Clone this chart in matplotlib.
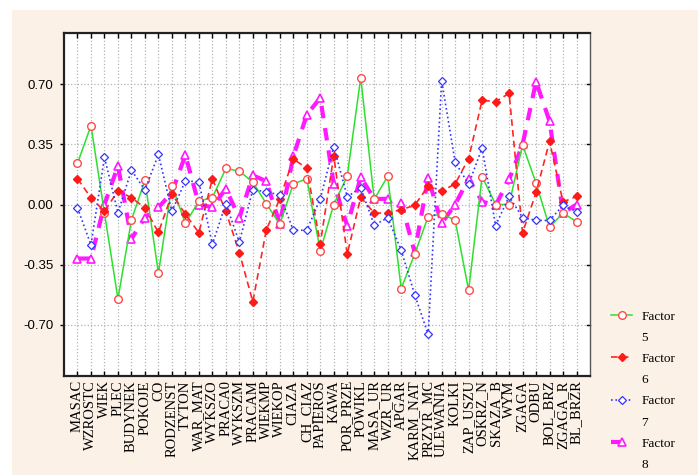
import matplotlib
matplotlib.use('Agg')
import matplotlib.pyplot as plt
from matplotlib.lines import Line2D
from matplotlib.patches import Rectangle
import numpy as np

variables = ['MASAC', 'WZROSTC', 'WIEK', 'PLEC', 'BUDYNEK', 'POKOJE', 'CO',
             'RODZENST', 'TYTON', 'WAR_MAT', 'WYKSZO', 'PRACA0', 'WYKSZM',
             'PRACAM', 'WIEKMP', 'WIEKOP', 'CIAZA', 'CH_CIAZ', 'PAPIEROS',
             'KAWA', 'POR_PRZE', 'POWIKL', 'MASA_UR', 'WZR_UR', 'APGAR',
             'KARM_NAT', 'PRZYR_MC', 'ULEWANIA', 'KOLKI', 'ZAP_USZU',
             'OSKRZ_N', 'SKAZA_B', 'WYM', 'ZGAGA', 'ODBU', 'BOL_BRZ',
             'ZGAGA_R', 'BL_BRZR']

factor5 = [0.24, 0.46, -0.05, -0.55, -0.09, 0.14, -0.40, 0.11, -0.11, 0.02,
           0.04, 0.21, 0.195, 0.13, 0.005, -0.115, 0.12, 0.15, -0.27, 0.0,
           0.165, 0.74, 0.03, 0.165, -0.49, -0.29, -0.07, -0.056, -0.09,
           -0.50, 0.163, 0.0, 0.0, 0.348, 0.125, -0.132, -0.05, -0.10]
factor6 = [0.15, 0.04, -0.04, 0.08, 0.04, -0.02, -0.163, 0.06, -0.056, -0.165,
           0.15, -0.04, -0.28, -0.567, -0.148, 0.033, 0.265, 0.212, -0.23, 0.283,
           -0.29, 0.042, -0.05, -0.05, -0.03, -0.005, 0.107, 0.078, 0.12,
           0.268, 0.608, 0.60, 0.648, -0.165, 0.07, 0.368, 0.015, 0.047]
factor7 = [-0.02, -0.235, 0.275, -0.047, 0.20, 0.085, 0.292, -0.04, 0.138, 0.132,
           -0.232, 0.005, -0.22, 0.087, 0.074, 0.056, -0.15, -0.15, 0.033, 0.338,
           0.045, 0.097, -0.12, -0.078, -0.266, -0.525, -0.758, 0.723, 0.248,
           0.117, 0.33, -0.123, 0.047, -0.076, -0.093, -0.093, -0.005, -0.042]
factor8 = [-0.315, -0.315, 0.0, 0.225, -0.20, -0.076, -0.017, 0.07, 0.288, 0.0,
           -0.016, 0.092, -0.078, 0.17, 0.136, -0.113, 0.28, 0.523, 0.622, 0.12,
           -0.124, 0.16, 0.033, 0.033, 0.01, -0.278, 0.155, -0.11, 0.0,
           0.15, 0.017, -0.005, 0.146, 0.35, 0.717, 0.486, -0.049, 0.0]

yticks = [-0.70, -0.35, 0.0, 0.35, 0.70]

x = np.arange(1, len(variables) + 1)

fig = plt.figure(figsize=(6.98, 4.75), dpi=100, facecolor='white')
fig.patches.append(Rectangle((12 / 698, 0), 1, 1 - 10 / 475, transform=fig.transFigure,
                             facecolor='#fcf1e7', edgecolor='none', zorder=-10))
ax = fig.add_axes([64 / 698, 1 - 376 / 475, 526 / 698, 343 / 475])
ax.set_facecolor('white')

l5, = ax.plot(x, factor5, color='#2ee02e', lw=1.1, marker='o', ms=5.5,
              mfc='white', mec='#ff4a4a', mew=1.0, zorder=3)
l6, = ax.plot(x, factor6, color='#ff2525', lw=1.2, dashes=(4, 2.5), marker='D',
              ms=4, mfc='#ff1a1a', mec='#ff1a1a', zorder=4)
l7, = ax.plot(x, factor7, color='#3535ff', lw=1.2, linestyle=':', marker='D',
              ms=4.5, mfc='white', mec='#3535ff', mew=0.9, zorder=5)
l8, = ax.plot(x, factor8, color='#ff19ff', lw=3, dashes=(3, 2.4), marker='^',
              ms=6, mfc='white', mec='#ff19ff', mew=1.2, zorder=2)

ax.set_xlim(0, len(variables) + 1)
ax.set_ylim(-1, 1)
ax.set_xticks(x)
ax.set_xticklabels(variables, rotation=90, family='Liberation Serif', fontsize=10.5)
ax.set_yticks(yticks)
ax.set_yticklabels(['%.2f' % v for v in yticks], family='Liberation Sans', fontsize=9.5)

ax.grid(True, color='#b4b4b4', linestyle=':', linewidth=0.9)
ax.set_axisbelow(True)

ax.tick_params(axis='x', which='both', direction='in', top=True, bottom=True,
               length=3.5, width=1, pad=3)
ax.tick_params(axis='y', which='both', direction='out', left=True, right=False,
               length=3, width=1, pad=4.5)
for y in yticks:
    ax.plot([1 - 0.006, 1], [y, y], transform=ax.get_yaxis_transform(),
            color='black', lw=1, clip_on=False)

for side in ['left', 'top', 'bottom']:
    ax.spines[side].set_linewidth(1.6)
    ax.spines[side].set_color('#222222')
ax.spines['right'].set_linewidth(1.0)
ax.spines['right'].set_color('#555555')

# each factor gets two legend rows: the keyed "Factor" and its number below
blank = Line2D([], [], linestyle='none')
handles = [l5, blank, l6, blank, l7, blank, l8, blank]
labels = ['Factor', '5', 'Factor', '6', 'Factor', '7', 'Factor', '8']
fig.legend(handles, labels, loc='upper left', bbox_to_anchor=(606 / 698, 1 - 305 / 475),
           frameon=False, prop={'family': 'Liberation Serif', 'size': 9.5},
           handlelength=1.6, handletextpad=0.7, labelspacing=0.68, borderaxespad=0,
           numpoints=1)

fig.savefig('out.png', dpi=100, facecolor=fig.get_facecolor())
